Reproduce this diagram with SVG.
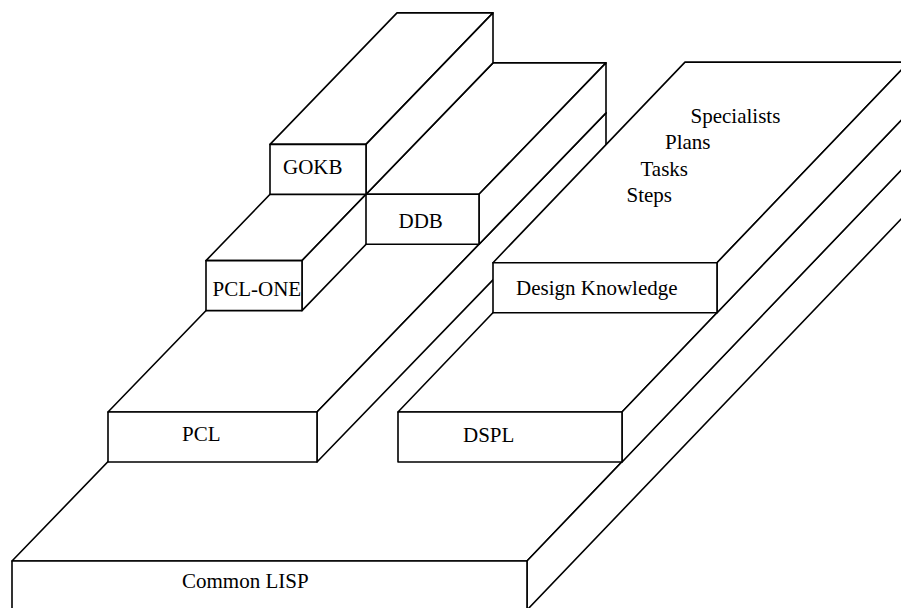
<svg xmlns="http://www.w3.org/2000/svg" width="901" height="608" viewBox="0 0 901 608">
  <style>
    .f { fill: #ffffff; stroke: #000000; stroke-width: 1.6; stroke-linejoin: round; }
    .t { font-family: "Liberation Serif", "Times New Roman", serif; font-size: 21px; fill: #000000; }
  </style>
  <rect x="0" y="0" width="901" height="608" fill="#ffffff"/>

  <g id="common-lisp">
    <polygon class="f" points="12,561 527,561 912,158.7 397,162.5"/>
    <polygon class="f" points="527,561 912,158.7 912,207.7 527,610"/>
    <rect class="f" x="12" y="561" width="515" height="49"/>
    <text class="t" x="182" y="588">Common LISP</text>
  </g>

  <g id="pcl">
    <polygon class="f" points="108,412 317,412 606,112.9 397,112.9"/>
    <polygon class="f" points="317,412 606,112.9 606,162.9 317,462"/>
    <rect class="f" x="108" y="412" width="209" height="50"/>
    <text class="t" x="182" y="441">PCL</text>
  </g>

  <g id="pcl-one">
    <polygon class="f" points="206,260.6 302,260.6 493,62.9 397,62.9"/>
    <polygon class="f" points="302,260.6 493,62.9 493,112.9 302,310.6"/>
    <rect class="f" x="206" y="260.6" width="96" height="50"/>
    <text class="t" x="212.5" y="296">PCL-ONE</text>
  </g>

  <g id="ddb">
    <polygon class="f" points="366,194.3 479,194.3 606,62.9 493,62.9"/>
    <polygon class="f" points="479,194.3 606,62.9 606,112.9 479,244.3"/>
    <rect class="f" x="366" y="194.3" width="113" height="50"/>
    <text class="t" x="398.5" y="227.5">DDB</text>
  </g>

  <g id="gokb">
    <polygon class="f" points="270,144.4 366,144.4 493,12.9 397,12.9"/>
    <polygon class="f" points="366,144.4 493,12.9 493,62.9 366,194.4"/>
    <rect class="f" x="270" y="144.4" width="96" height="50"/>
    <text class="t" x="283" y="174">GOKB</text>
  </g>

  <g id="dspl">
    <polygon class="f" points="398,412 622,412 909,112 685,112"/>
    <polygon class="f" points="622,412 909,112 909,162 622,462"/>
    <rect class="f" x="398" y="412" width="224" height="50"/>
    <text class="t" x="463" y="442">DSPL</text>
  </g>

  <g id="design-knowledge">
    <polygon class="f" points="493,262.7 717,262.7 909,62.1 685,62.1"/>
    <polygon class="f" points="717,262.7 909,62.1 909,112.1 717,312.7"/>
    <rect class="f" x="493" y="262.7" width="224" height="50"/>
    <text class="t" x="516" y="295">Design Knowledge</text>
    <text class="t" x="690.5" y="122.5">Specialists</text>
    <text class="t" x="665" y="148.5">Plans</text>
    <text class="t" x="640.5" y="175.5">Tasks</text>
    <text class="t" x="626.5" y="201.5">Steps</text>
  </g>

  <g id="connectors"></g>
</svg>
